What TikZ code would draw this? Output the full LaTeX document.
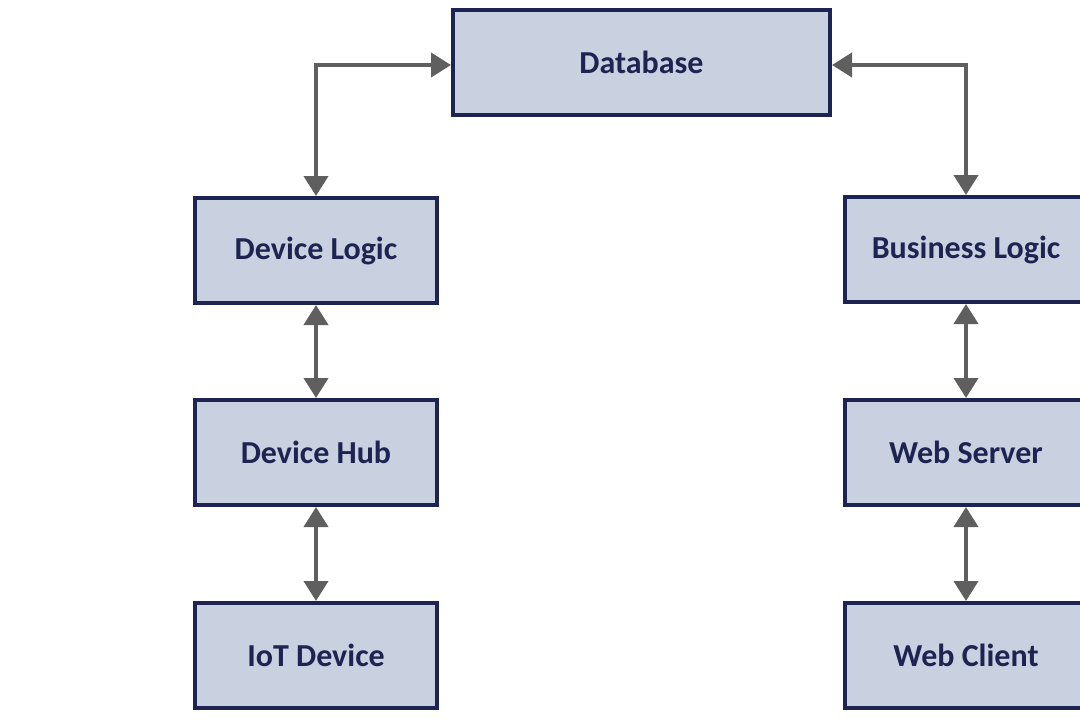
\documentclass[tikz,border=0pt]{standalone}
\usepackage{fontspec}
\setmainfont{Carlito}
\usetikzlibrary{arrows.meta}
\definecolor{boxfill}{HTML}{C9D0DF}
\definecolor{boxline}{HTML}{1E2452}
\definecolor{linkgray}{HTML}{5F5F5F}
\begin{document}
\begin{tikzpicture}[x=1pt, y=-1pt,
    block/.style={draw=boxline, fill=boxfill, line width=4pt,
      minimum width=242pt, minimum height=105pt, inner sep=0pt,
      text=boxline, font=\fontsize{32}{38}\selectfont\bfseries},
    link/.style={draw=linkgray, line width=4pt,
      {Triangle[length=20pt, width=24pt]}-{Triangle[length=20pt, width=24pt]}}]
    \useasboundingbox (0,0) rectangle (1080,720);

    \node[block, minimum width=377pt] (db) at (641.5,62.5) {Database};

    \node[block] (devlogic) at (316,250.5) {Device Logic};
    \node[block] (devhub) at (316,452.5) {Device Hub};
    \node[block] (iot) at (316,655.5) {IoT Device};

    \node[block] (buslogic) at (966,249.5) {Business Logic};
    \node[block] (websrv) at (966,452.5) {Web Server};
    \node[block] (webcli) at (966,655.5) {Web Client};

    \draw[link] (devlogic.north) |- ([yshift=-2.5pt]db.west);
    \draw[link] ([yshift=-2.5pt]db.east) -| (buslogic.north);

    \draw[link] (devlogic) -- (devhub);
    \draw[link] (devhub) -- (iot);
    \draw[link] (buslogic) -- (websrv);
    \draw[link] (websrv) -- (webcli);
\end{tikzpicture}
\end{document}
